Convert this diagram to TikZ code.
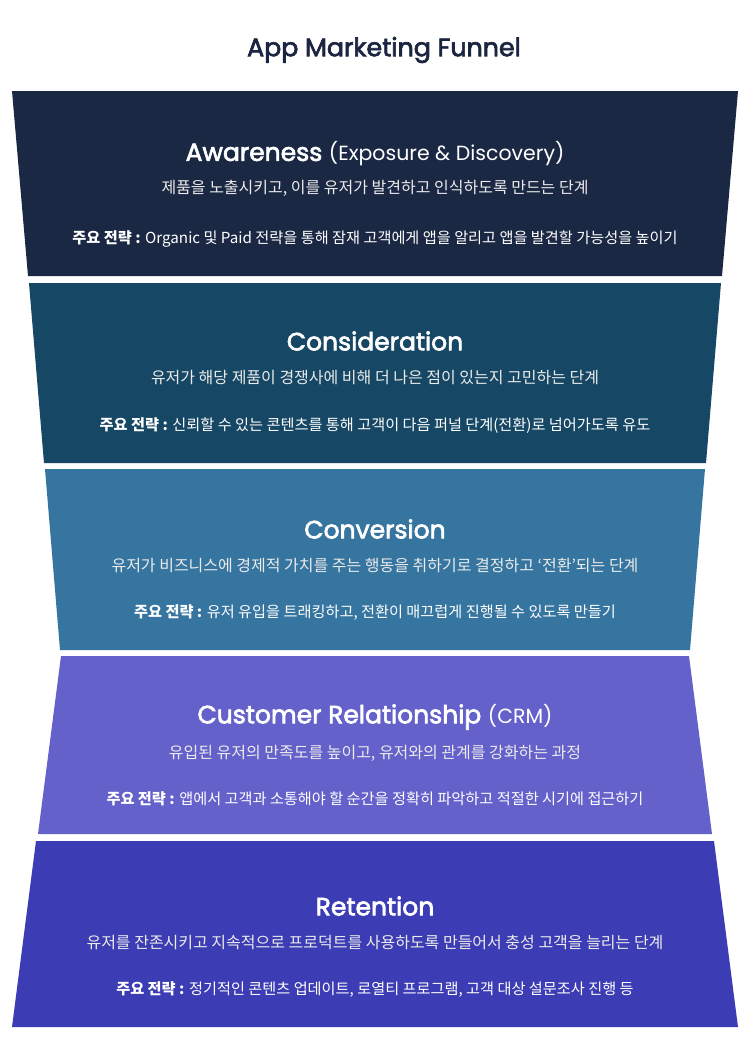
\documentclass[tikz,border=0pt]{standalone}
\usepackage{fontspec}
\setmainfont{Noto Sans CJK KR}
\newfontfamily\hfont[FakeBold=2.6]{Poppins}
\newfontfamily\pfont{Poppins}
\definecolor{titlec}{HTML}{1B2440}
\definecolor{bandA}{HTML}{1B2844}
\definecolor{bandB}{HTML}{164764}
\definecolor{bandC}{HTML}{3675A0}
\definecolor{bandD}{HTML}{6461CB}
\definecolor{bandE}{HTML}{3C3CB4}
\tikzset{
  head/.style={text=white,font=\hfont\fontsize{25}{28}\selectfont,anchor=center,inner sep=0pt},
  sub/.style={text=white!92!black,font=\fontsize{16}{19}\selectfont,anchor=center,inner sep=0pt},
  strat/.style={text=white,font=\fontsize{15.2}{18}\selectfont,anchor=center,inner sep=0pt},
}
\newcommand{\paren}[1]{{\pfont\fontsize{20.5}{24}\selectfont #1}}
\begin{document}
\begin{tikzpicture}[x=1pt,y=-1pt]
\useasboundingbox[fill=white] (0,0) rectangle (750,1039);
\node[text=titlec,font=\hfont\fontsize{25.3}{28}\selectfont,inner sep=0pt] (title) at (384,50) {App Marketing Funnel};
% bands
\fill[bandA] (12,91) -- (738,91) -- (722,276) -- (28,276) -- cycle;
\fill[bandB] (29,283) -- (721,283) -- (706,463) -- (44,463) -- cycle;
\fill[bandC] (45,469) -- (705,469) -- (690,650) -- (60,650) -- cycle;
\fill[bandD] (61,656) -- (689,656) -- (712,834) -- (38,834) -- cycle;
\fill[bandE] (36,841) -- (714,841) -- (738,1027) -- (12,1027) -- cycle;
% band 1
\node[head] (h1) at (375,154) {Awareness \paren{(Exposure \& Discovery)}};
\node[sub] (s1) at (375,188) {제품을 노출시키고, 이를 유저가 발견하고 인식하도록 만드는 단계};
\node[strat] (t1) at (375,239) {\textbf{주요 전략 :} Organic 및 Paid 전략을 통해 잠재 고객에게 앱을 알리고 앱을 발견할 가능성을 높이기};
% band 2
\node[head] (h2) at (375,341) {Consideration};
\node[sub] (s2) at (375,378) {유저가 해당 제품이 경쟁사에 비해 더 나은 점이 있는지 고민하는 단계};
\node[strat] (t2) at (375,426) {\textbf{주요 전략 :} 신뢰할 수 있는 콘텐츠를 통해 고객이 다음 퍼널 단계(전환)로 넘어가도록 유도};
% band 3
\node[head] (h3) at (375,529) {Conversion};
\node[sub] (s3) at (375,565) {유저가 비즈니스에 경제적 가치를 주는 행동을 취하기로 결정하고 ‘전환’되는 단계};
\node[strat] (t3) at (375,613) {\textbf{주요 전략 :} 유저 유입을 트래킹하고, 전환이 매끄럽게 진행될 수 있도록 만들기};
% band 4
\node[head] (h4) at (375,717) {Customer Relationship \paren{(CRM)}};
\node[sub] (s4) at (375,753) {유입된 유저의 만족도를 높이고, 유저와의 관계를 강화하는 과정};
\node[strat] (t4) at (375,799) {\textbf{주요 전략 :} 앱에서 고객과 소통해야 할 순간을 정확히 파악하고 적절한 시기에 접근하기};
% band 5
\node[head] (h5) at (375,906) {Retention};
\node[sub] (s5) at (375,942) {유저를 잔존시키고 지속적으로 프로덕트를 사용하도록 만들어서 충성 고객을 늘리는 단계};
\node[strat] (t5) at (375,990) {\textbf{주요 전략 :} 정기적인 콘텐츠 업데이트, 로열티 프로그램, 고객 대상 설문조사 진행 등};
\end{tikzpicture}
\end{document}
